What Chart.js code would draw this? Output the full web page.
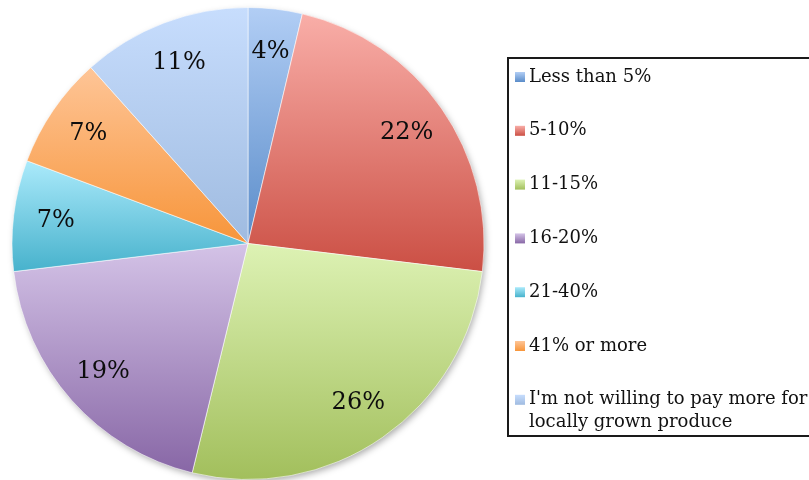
<!DOCTYPE html>
<html>
<head>
<meta charset="utf-8">
<script src="https://cdn.jsdelivr.net/npm/chart.js@4/dist/chart.umd.min.js"></script>
<style>
  html, body { margin: 0; padding: 0; background: #fff; }
  #wrap { width: 809px; height: 480px; position: relative; }
</style>
</head>
<body>
<div id="wrap"><canvas id="pie"></canvas></div>
<script>
const categories = ["Less than 5%", "5-10%", "11-15%", "16-20%", "21-40%", "41% or more",
                    "I'm not willing to pay more for locally grown produce"];
// slice sizes
const shares = [3.7, 23.2, 26.9, 19.3, 7.6, 7.7, 11.6];
// percentages printed on the slices
const percentLabels = ["4%", "22%", "26%", "19%", "7%", "7%", "11%"];
const topColors = ["#b2cef5", "#f9aea8", "#ddf2b4", "#d4c3e7", "#abeafb", "#fec597", "#c7ddfd"];
const bottomColors = ["#5a8cc9", "#cb4f44", "#a2bf5c", "#8867a6", "#47b2cc", "#f7953a", "#9fbbe0"];

const SERIF = "'DejaVu Serif', 'Liberation Serif', serif";

// vertical extent of an arc, so every slice gets its own light-to-dark gradient
function arcYRange(a) {
  let ys = [a.y, a.y + Math.sin(a.startAngle) * a.outerRadius, a.y + Math.sin(a.endAngle) * a.outerRadius];
  [-Math.PI / 2, Math.PI / 2, 3 * Math.PI / 2].forEach(t => {
    if (t > a.startAngle && t < a.endAngle) ys.push(a.y + Math.sin(t) * a.outerRadius);
  });
  return [Math.min(...ys), Math.max(...ys)];
}

const gradientSlices = {
  id: "gradientSlices",
  beforeDatasetsDraw(chart) {
    const ctx = chart.ctx;
    const arcs = chart.getDatasetMeta(0).data;
    if (!arcs.length) return;
    // soft shadow under the whole pie
    const a0 = arcs[0];
    ctx.save();
    ctx.shadowColor = "rgba(0,0,0,0.35)";
    ctx.shadowBlur = 7;
    ctx.shadowOffsetX = 2;
    ctx.shadowOffsetY = 3;
    ctx.fillStyle = "#ffffff";
    ctx.beginPath();
    ctx.arc(a0.x, a0.y, a0.outerRadius - 1, 0, Math.PI * 2);
    ctx.fill();
    ctx.restore();
    arcs.forEach((a, i) => {
      const [y0, y1] = arcYRange(a);
      const g = ctx.createLinearGradient(0, y0, 0, y1);
      g.addColorStop(0, topColors[i]);
      g.addColorStop(1, bottomColors[i]);
      a.options.backgroundColor = g;
    });
  }
};

const sliceLabels = {
  id: "sliceLabels",
  afterDatasetsDraw(chart) {
    const ctx = chart.ctx;
    ctx.save();
    ctx.font = "24px " + SERIF;
    ctx.fillStyle = "#0d0d0d";
    ctx.textAlign = "center";
    ctx.textBaseline = "middle";
    chart.getDatasetMeta(0).data.forEach((a, i) => {
      const mid = (a.startAngle + a.endAngle) / 2;
      const r = a.outerRadius * 0.82;
      ctx.fillText(percentLabels[i], a.x + Math.cos(mid) * r, a.y + Math.sin(mid) * r);
    });
    ctx.restore();
  }
};

const boxLegend = {
  id: "boxLegend",
  afterDraw(chart) {
    const ctx = chart.ctx;
    const left = 508, top = 58, bottom = 436;
    ctx.save();
    ctx.strokeStyle = "#1a1a1a";
    ctx.lineWidth = 2;
    ctx.strokeRect(left, top, 340, bottom - top);
    ctx.font = "18px " + SERIF;
    ctx.textBaseline = "middle";
    const step = 53.8;
    categories.forEach((c, i) => {
      const y = 77 + i * step;
      const g = ctx.createLinearGradient(0, y - 5, 0, y + 5);
      g.addColorStop(0, topColors[i]);
      g.addColorStop(1, bottomColors[i]);
      ctx.fillStyle = g;
      ctx.fillRect(515, y - 5, 10, 10);
      ctx.fillStyle = "#111";
      if (i === categories.length - 1) {
        ctx.fillText("I'm not willing to pay more for", 529, y);
        ctx.fillText("locally grown produce", 529, y + 23);
      } else {
        ctx.fillText(c, 529, y);
      }
    });
    ctx.restore();
  }
};

new Chart(document.getElementById("pie"), {
  type: "pie",
  data: {
    labels: categories,
    datasets: [{
      data: shares,
      backgroundColor: bottomColors,
      borderColor: "rgba(255,255,255,0.55)",
      borderWidth: 1,
      hoverOffset: 0
    }]
  },
  options: {
    responsive: true,
    maintainAspectRatio: false,
    animation: false,
    layout: { padding: { left: 11, top: 7, right: 324, bottom: 0 } },
    plugins: {
      legend: { display: false },
      tooltip: { enabled: false }
    }
  },
  plugins: [gradientSlices, sliceLabels, boxLegend]
});
</script>
</body>
</html>
